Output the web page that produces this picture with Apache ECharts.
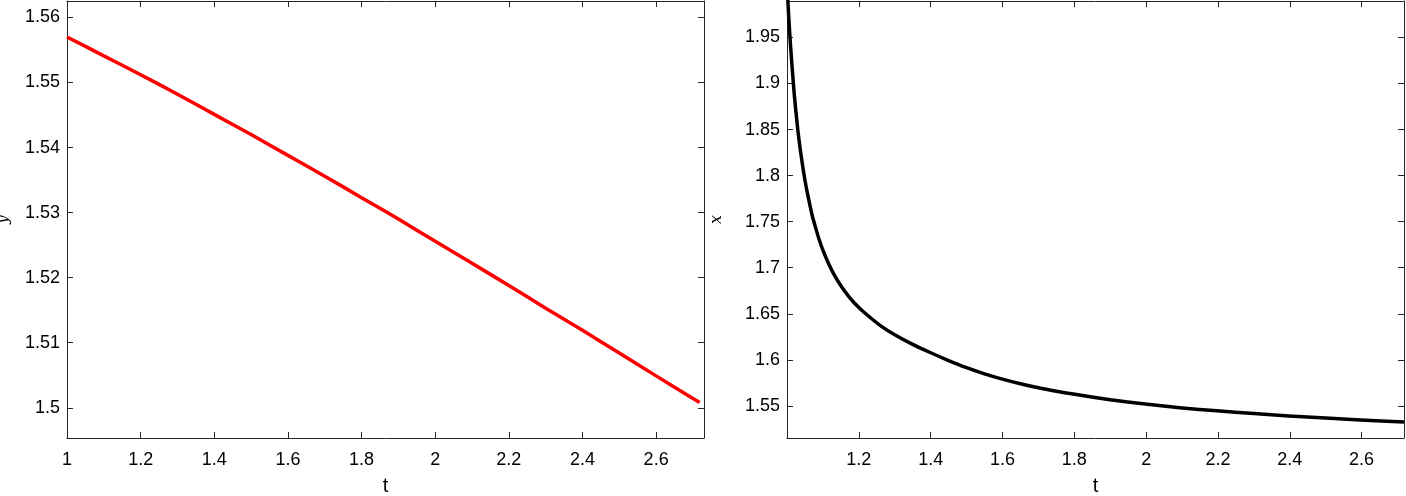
<!DOCTYPE html>
<html>
<head>
<meta charset="utf-8">
<script src="https://cdn.jsdelivr.net/npm/echarts@6/dist/echarts.min.js"></script>
<style>html,body{margin:0;padding:0;background:#fff}#c{width:1406px;height:496px}</style>
</head>
<body>
<div id="c"></div>
<script>
// Left panel: y(t)
const leftT = [1.0, 1.1, 1.2, 1.3, 1.4, 1.5, 1.6, 1.7, 1.8, 1.9, 2.0, 2.1, 2.2, 2.3, 2.4, 2.5, 2.6, 2.718];
const leftY = [1.5570, 1.5541, 1.5512, 1.5482, 1.5451, 1.5420, 1.5388, 1.5356, 1.5323, 1.5290, 1.5256, 1.5222, 1.5188, 1.5153, 1.5119, 1.5084, 1.5049, 1.5008];
// Right panel: x(t)
const rightT = [1.0, 1.005, 1.01, 1.02, 1.03, 1.04, 1.05, 1.06, 1.07, 1.08, 1.09, 1.10, 1.114, 1.13, 1.15, 1.175, 1.2, 1.225, 1.26, 1.3, 1.35, 1.397, 1.45, 1.5, 1.55, 1.597, 1.65, 1.7, 1.75, 1.797, 1.9, 1.997, 2.1, 2.197, 2.3, 2.397, 2.5, 2.597, 2.718];
const rightX = [2.008, 1.971, 1.940, 1.889, 1.850, 1.820, 1.795, 1.775, 1.757, 1.743, 1.730, 1.719, 1.706, 1.6934, 1.6804, 1.6673, 1.6568, 1.6481, 1.6372, 1.6272, 1.6167, 1.6082, 1.5992, 1.5914, 1.5847, 1.5793, 1.5740, 1.5696, 1.5659, 1.5628, 1.5566, 1.5519, 1.5478, 1.5446, 1.5416, 1.5391, 1.5367, 1.5347, 1.5324];

// Tick values
const leftXTicks = [1, 1.2, 1.4, 1.6, 1.8, 2, 2.2, 2.4, 2.6];
const leftYTicks = [1.50, 1.51, 1.52, 1.53, 1.54, 1.55, 1.56];
const rightXTicks = [1.2, 1.4, 1.6, 1.8, 2, 2.2, 2.4, 2.6];
const rightYTicks = [1.55, 1.6, 1.65, 1.7, 1.75, 1.8, 1.85, 1.9, 1.95];

const AX = '#262626';
const labelFont = {fontFamily: 'Liberation Sans, Arial, sans-serif', fontSize: 18, color: '#000'};

function xAx(grid, min, max, ticks, pos, showLabel, name) {
  return {
    type: 'value', gridIndex: grid, min: min, max: max, position: pos,
    splitLine: {show: false},
    axisLine: {show: true, onZero: false, lineStyle: {color: AX, width: 1}},
    axisTick: {show: true, inside: true, length: 6, customValues: ticks, lineStyle: {color: AX}},
    axisLabel: showLabel ? Object.assign({show: true, margin: 13, customValues: ticks}, labelFont) : {show: false},
    name: name || '', nameLocation: 'middle', nameGap: 38,
    nameTextStyle: {fontFamily: 'Liberation Sans, Arial, sans-serif', fontSize: 20, color: '#000'}
  };
}
function yAx(grid, min, max, ticks, pos, showLabel, name, gap) {
  return {
    type: 'value', gridIndex: grid, min: min, max: max, position: pos,
    splitLine: {show: false},
    axisLine: {show: true, onZero: false, lineStyle: {color: AX, width: 1}},
    axisTick: {show: true, inside: true, length: 6, customValues: ticks, lineStyle: {color: AX}},
    axisLabel: showLabel ? Object.assign({show: true, margin: 7, customValues: ticks}, labelFont) : {show: false},
    name: name || '', nameLocation: 'middle', nameGap: gap || 50, nameRotate: 90,
    nameTextStyle: {fontFamily: 'DejaVu Serif, Liberation Serif, serif', fontStyle: 'italic', fontSize: 16, color: '#000'}
  };
}

const chart = echarts.init(document.getElementById('c'), null, {renderer: 'canvas'});
chart.setOption({
  animation: false,
  backgroundColor: '#fff',
  grid: [
    {left: 67, right: 702, top: 1, bottom: 58, containLabel: false, outerBoundsMode: 'none'},
    {left: 787, right: 2, top: 1, bottom: 58, containLabel: false, outerBoundsMode: 'none'}
  ],
  xAxis: [
    xAx(0, 1, 2.73, leftXTicks, 'bottom', true, 't'),
    xAx(0, 1, 2.73, leftXTicks, 'top', false),
    xAx(1, 1, 2.718, rightXTicks, 'bottom', true, 't'),
    xAx(1, 1, 2.718, rightXTicks, 'top', false)
  ],
  yAxis: [
    yAx(0, 1.49535, 1.56253, leftYTicks, 'left', true, 'y', 56),
    yAx(0, 1.49535, 1.56253, leftYTicks, 'right', false),
    yAx(1, 1.5151, 1.9896, rightYTicks, 'left', true, 'x', 62),
    yAx(1, 1.5151, 1.9896, rightYTicks, 'right', false)
  ],
  series: [
    {
      type: 'line', xAxisIndex: 0, yAxisIndex: 0, showSymbol: false, clip: true,
      smooth: 0.3,
      data: leftT.map((t, i) => [t, leftY[i]]),
      lineStyle: {color: '#ff0000', width: 3.5}, itemStyle: {color: '#ff0000'}
    },
    {
      type: 'line', xAxisIndex: 2, yAxisIndex: 2, showSymbol: false, clip: true,
      smooth: 0.2,
      data: rightT.map((t, i) => [t, rightX[i]]),
      lineStyle: {color: '#000000', width: 3.5, join: 'round'}, itemStyle: {color: '#000000'}
    }
  ]
});
</script>
</body>
</html>
